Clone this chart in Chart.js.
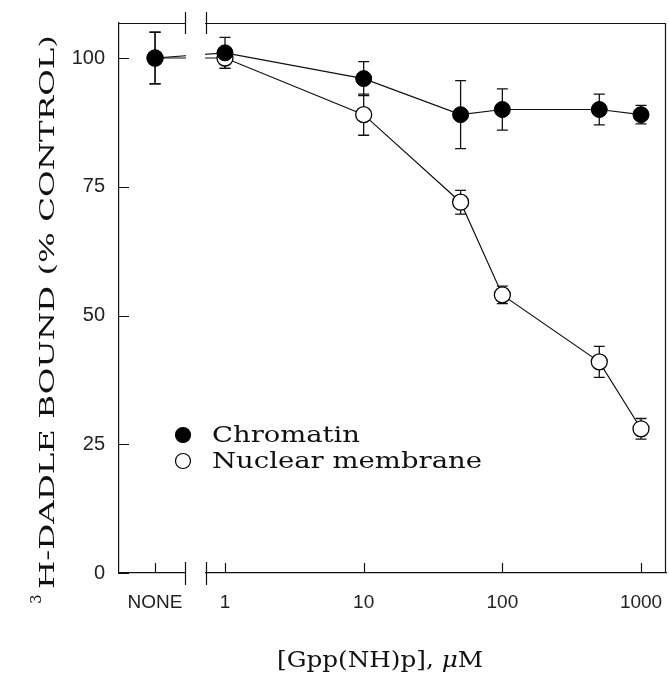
<!DOCTYPE html>
<html lang="en">
<head>
  <meta charset="UTF-8" />
  <title>Gpp(NH)p - DADLE binding</title>
  <script src="https://cdn.jsdelivr.net/npm/chart.js"></script>
  <style>
    html, body { margin: 0; padding: 0; background: #fff; }
    #wrap { width: 669px; height: 683px; }
  </style>
</head>
<body>
  <div id="wrap"><canvas id="grafico" width="669" height="683"></canvas></div>

  <script>
    // x positions on the log axis; 0.313 is where "NONE" sits left of the break
    const doses = [0.313, 1, 10, 50, 100, 500, 1000];
    const chromatin = [100, 101, 96, 89, 90, 90, 89];
    const chromatinErr = [5, 3, 3.3, 6.6, 4, 3, 1.8];
    const membrane = [100, 100, 89, 72, 54, 41, 28];
    const membraneErr = [5, 2, 4, 2.3, 1.7, 3, 2];
    const seriesLabels = ['Chromatin', 'Nuclear membrane'];

    const xTickValues = [0.313, 1, 10, 100, 1000];
    const xTickLabels = ['NONE', '1', '10', '100', '1000'];
    const yTickValues = [0, 25, 50, 75, 100];
    const xBreak = [0.515, 0.73];

    const serif = '"DejaVu Serif", serif';
    const sans = '"Liberation Sans", Arial, sans-serif';

    // the original lettering is a wide schoolbook face, so stretch to length
    function fitText(ctx, text, x, y, target) {
      const w = ctx.measureText(text).width;
      ctx.save();
      ctx.translate(x, y);
      ctx.scale(target / w, 1);
      ctx.fillText(text, 0, 0);
      ctx.restore();
    }

    const extras = {
      id: 'extras',
      beforeDatasetsDraw(chart) {
        const { ctx, chartArea: a, scales } = chart;
        const xs = scales.x, ys = scales.y;
        ctx.save();
        ctx.strokeStyle = '#111';
        ctx.lineWidth = 1.2;
        // box top + right
        ctx.beginPath();
        ctx.moveTo(a.left, a.top + 0.5);
        ctx.lineTo(a.right - 0.5, a.top + 0.5);
        ctx.lineTo(a.right - 0.5, a.bottom);
        ctx.stroke();
        // inward ticks
        ctx.beginPath();
        yTickValues.forEach(v => {
          const p = Math.round(ys.getPixelForValue(v)) + 0.5;
          ctx.moveTo(a.left, p); ctx.lineTo(a.left + 10, p);
        });
        xTickValues.forEach(v => {
          const p = Math.round(xs.getPixelForValue(v)) + 0.5;
          ctx.moveTo(p, a.bottom); ctx.lineTo(p, a.bottom - 10);
        });
        ctx.stroke();
        // error bars
        const sets = [[chromatin, chromatinErr], [membrane, membraneErr]];
        ctx.lineWidth = 1.3;
        sets.forEach(([vals, errs]) => {
          vals.forEach((v, i) => {
            const px = xs.getPixelForValue(doses[i]);
            const hi = ys.getPixelForValue(v + errs[i]);
            const lo = ys.getPixelForValue(v - errs[i]);
            ctx.beginPath();
            ctx.moveTo(px, hi); ctx.lineTo(px, lo);
            ctx.moveTo(px - 5.5, hi); ctx.lineTo(px + 5.5, hi);
            ctx.moveTo(px - 5.5, lo); ctx.lineTo(px + 5.5, lo);
            ctx.stroke();
          });
        });
        ctx.restore();
      },
      afterDatasetsDraw(chart) {
        const { ctx, chartArea: a, scales } = chart;
        const b0 = scales.x.getPixelForValue(xBreak[0]);
        const b1 = scales.x.getPixelForValue(xBreak[1]);
        ctx.save();
        ctx.fillStyle = '#fff';
        ctx.fillRect(b0 + 1, a.top - 2, b1 - b0 - 2, a.bottom - a.top + 4);
        ctx.strokeStyle = '#111';
        ctx.lineWidth = 1.2;
        ctx.beginPath();
        [b0, b1].forEach(b => {
          const p = Math.round(b) + 0.5;
          ctx.moveTo(p, a.top - 11); ctx.lineTo(p, a.top + 11);
          ctx.moveTo(p, a.bottom - 11); ctx.lineTo(p, a.bottom + 12);
        });
        ctx.stroke();
        ctx.restore();
      },
      afterDraw(chart) {
        const { ctx } = chart;
        ctx.save();
        ctx.fillStyle = '#111';
        ctx.textBaseline = 'middle';
        ctx.textAlign = 'left';
        // legend
        const rows = [
          { y: 435, fill: '#000' },
          { y: 461, fill: '#fff' }
        ];
        rows.forEach((r, i) => {
          ctx.beginPath();
          ctx.arc(183, r.y, 7.5, 0, Math.PI * 2);
          ctx.fillStyle = r.fill;
          ctx.fill();
          ctx.lineWidth = 1.2;
          ctx.strokeStyle = '#000';
          ctx.stroke();
          ctx.fillStyle = '#111';
          ctx.font = '22px ' + serif;
          fitText(ctx, seriesLabels[i], 212, r.y + 1, i === 0 ? 148 : 270);
        });
        // y title
        ctx.save();
        ctx.translate(49, 0);
        ctx.rotate(-Math.PI / 2);
        ctx.font = '21px ' + serif;
        fitText(ctx, 'H-DADLE BOUND (% CONTROL)', -589, 0, 554);
        ctx.font = '15px ' + serif;
        ctx.fillText('3', -604, -12);
        ctx.restore();
        // x title
        ctx.font = '23px ' + serif;
        const t1 = '[Gpp(NH)p], ';
        const w1 = ctx.measureText(t1).width;
        ctx.font = 'italic 23px ' + serif;
        const w2 = ctx.measureText('\u03bc').width;
        ctx.font = '23px ' + serif;
        const w3 = ctx.measureText('M').width;
        const k = 206 / (w1 + w2 + w3);
        ctx.save();
        ctx.translate(277, 661);
        ctx.scale(k, 1);
        ctx.fillText(t1, 0, 0);
        ctx.font = 'italic 23px ' + serif;
        ctx.fillText('\u03bc', w1, 0);
        ctx.font = '23px ' + serif;
        ctx.fillText('M', w1 + w2, 0);
        ctx.restore();
        ctx.restore();
      }
    };

    const ctx = document.getElementById('grafico').getContext('2d');
    new Chart(ctx, {
      type: 'line',
      data: {
        datasets: [
          {
            label: seriesLabels[0],
            data: doses.map((d, i) => ({ x: d, y: chromatin[i] })),
            borderColor: '#111',
            borderWidth: 1.2,
            pointRadius: 8,
            pointBackgroundColor: '#000',
            pointBorderColor: '#000',
            pointBorderWidth: 1
          },
          {
            label: seriesLabels[1],
            data: doses.map((d, i) => ({ x: d, y: membrane[i] })),
            borderColor: '#111',
            borderWidth: 1.2,
            pointRadius: 8,
            pointBackgroundColor: '#fff',
            pointBorderColor: '#000',
            pointBorderWidth: 1.3
          }
        ]
      },
      options: {
        responsive: false,
        animation: false,
        layout: { autoPadding: false, padding: { top: 23, right: 3, left: 0, bottom: 0 } },
        plugins: {
          legend: { display: false },
          tooltip: { enabled: false }
        },
        scales: {
          x: {
            type: 'logarithmic',
            min: 0.172,
            max: 1514,
            afterFit: s => { s.height = 110; s.paddingLeft = 0; s.paddingRight = 0; },
            afterBuildTicks: s => { s.ticks = xTickValues.map(v => ({ value: v })); },
            grid: { display: false, drawTicks: false },
            border: { display: true, color: '#111', width: 1.2 },
            ticks: {
              padding: 18,
              color: '#222',
              font: { family: sans, size: 19 },
              maxRotation: 0,
              autoSkip: false,
              callback: (v, i) => xTickLabels[i]
            }
          },
          y: {
            min: 0,
            max: 106.8,
            afterFit: s => { s.width = 119; s.paddingTop = 0; s.paddingBottom = 0; },
            afterBuildTicks: s => { s.ticks = yTickValues.map(v => ({ value: v })); },
            grid: { display: false, drawTicks: false },
            border: { display: true, color: '#111', width: 1.2 },
            ticks: {
              padding: 14,
              color: '#222',
              font: { family: sans, size: 20 },
              callback: v => String(v)
            }
          }
        }
      },
      plugins: [extras]
    });
  </script>
</body>
</html>
